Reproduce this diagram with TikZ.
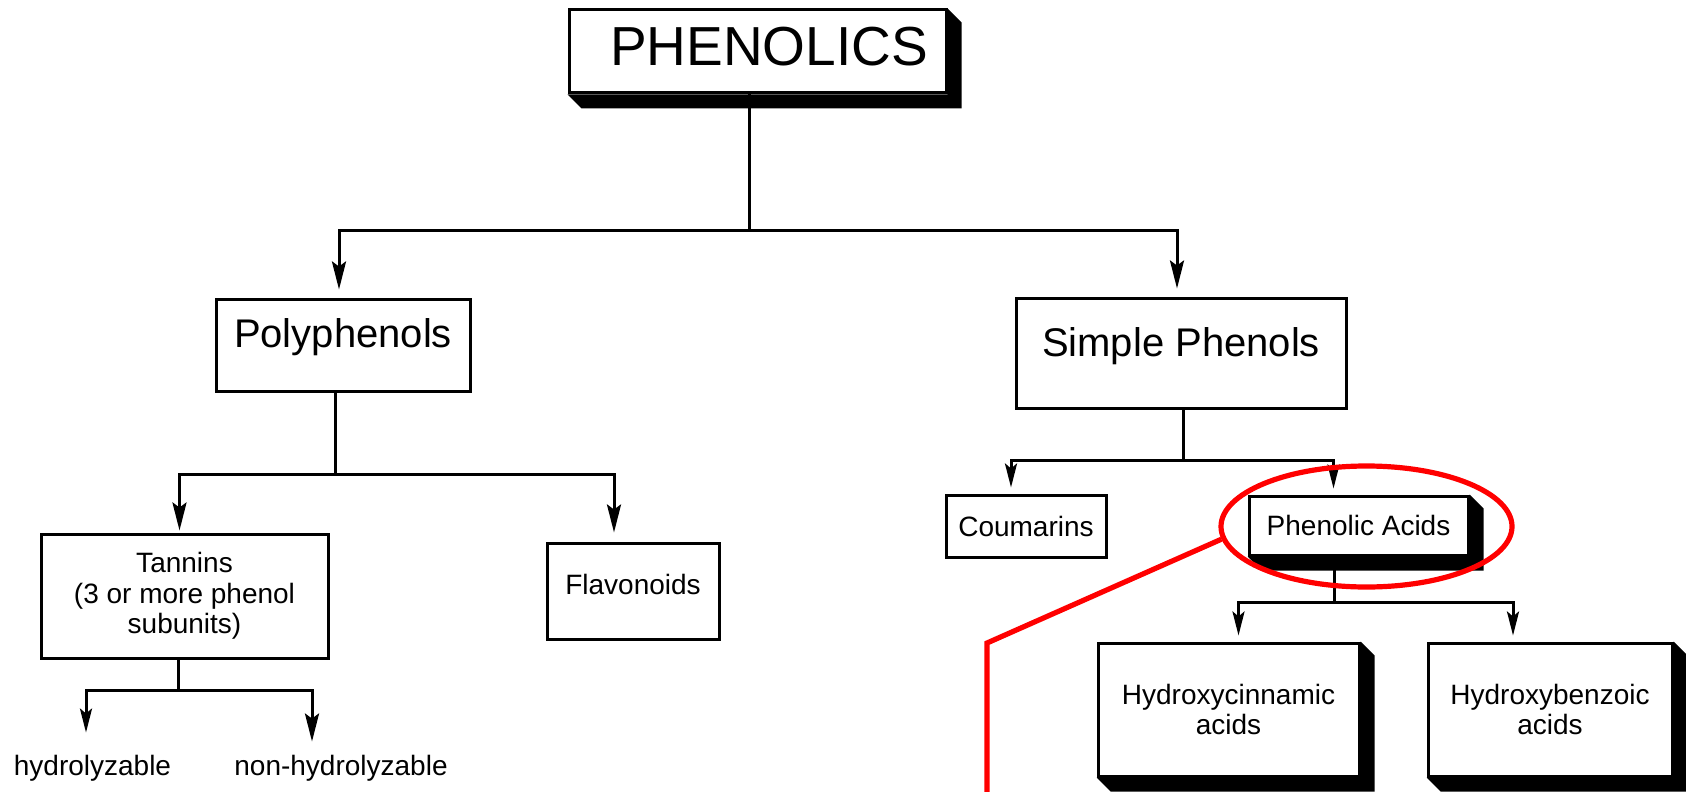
\documentclass[tikz,border=0pt]{standalone}
\usepackage{fontspec}
\setmainfont{Liberation Sans}
\usetikzlibrary{arrows.meta,shapes.geometric}
\tikzstyle{box}     = [rectangle, draw=black, line width=1.5pt, fill=white, inner sep=0pt]
\tikzstyle{leaf}    = [inner sep=0pt]
\tikzstyle{fbig}    = [font=\fontsize{27.5}{30}\selectfont]
\tikzstyle{fmid}    = [font=\fontsize{20}{24}\selectfont]
\tikzstyle{fsmall}  = [font=\fontsize{14}{15.25}\selectfont]
\tikzstyle{link}    = [draw, line width=1.5pt]
\tikzstyle{arrA}    = [link, -{Stealth[length=14pt,width=7pt,inset=2.5pt]}]
\tikzstyle{arrB}    = [link, -{Stealth[length=12pt,width=6pt,inset=2.5pt]}]
\tikzstyle{ring}    = [ellipse, draw=red, line width=2.6pt, minimum width=145.5pt, minimum height=60.5pt, inner sep=0pt]
\tikzstyle{redline} = [draw=red, line width=2.6pt]

\begin{document}
\begin{tikzpicture}[x=0.5pt, y=-0.5pt]
	\useasboundingbox (0,0) rectangle (1686,792);

	%%%% Boxes
	\node[box, fbig, minimum width=188.5pt, minimum height=41.5pt, text depth=5pt] (top) at (757.5,51.5) {\hspace*{11.5pt}PHENOLICS};
	\node[box, fmid, minimum width=127pt, minimum height=46pt, text depth=12pt] (poly) at (343,345) {Polyphenols};
	\node[box, fmid, minimum width=165pt, minimum height=55pt, text depth=11pt] (simple) at (1181,353) {Simple Phenols};

	\node[box, fsmall, align=center, minimum width=143.5pt, minimum height=62pt] (tannins) at (184.5,596) {Tannins\\(3 or more phenol\\subunits)};
	\node[box, fsmall, minimum width=86pt, minimum height=48pt, text depth=7pt] (flav) at (633,591) {Flavonoids};
	\node[box, fsmall, minimum width=80pt, minimum height=31pt] (coum) at (1026,526) {Coumarins};
	\node[box, fsmall, minimum width=109.5pt, minimum height=29.5pt] (acids) at (1358.5,525.5) {Phenolic Acids};
	\node[box, fsmall, align=center, minimum width=130.5pt, minimum height=66.5pt] (hcin) at (1228.5,709.5) {Hydroxycinnamic\\acids};
	\node[box, fsmall, align=center, minimum width=122pt, minimum height=66.5pt] (hben) at (1550,709.5) {Hydroxybenzoic\\acids};

	%%%% Tannin types
	\node[leaf, fsmall] (hyd) at (92.5,768) {hydrolyzable};
	\node[leaf, fsmall] (nonhyd) at (341,768) {non-hydrolyzable};

	%%%% Shadows
	\foreach \name in {top,acids,hcin,hben}
	\fill (\name.north east) -- ([shift={(7pt,-7pt)}]\name.north east) -- ([shift={(7pt,-7pt)}]\name.south east) -- ([shift={(7pt,-7pt)}]\name.south west) -- (\name.south west) -- (\name.south east) -- cycle;

	%%%% Branch points
	\coordinate (b0) at (749,230);
	\coordinate (b1) at (335,474);
	\coordinate (b2) at (1183,460);
	\coordinate (b3) at (178.5,690);
	\coordinate (b4) at (1334.5,602);

	%%%% Stems
	\foreach \name/\bar in {top/b0, poly/b1, simple/b2, tannins/b3, acids/b4}
	\path[link] (\name.south -| \bar) -- (\bar);

	%%%% Arrows
	\foreach \bar/\dest/\dx/\sh in {b0/poly/-2pt/4pt, b0/simple/-2pt/4pt, b1/tannins/-2.5pt/1pt, b1/flav/-9.5pt/4.5pt}
	\path[arrA, shorten >=\sh] (\bar) -| ([xshift=\dx]\dest.north);
	\foreach \bar/\dest/\dx/\sh in {b2/coum/-7.5pt/3pt, b2/acids/-12.5pt/3pt, b4/hcin/5pt/3pt, b4/hben/-18.5pt/3pt}
	\path[arrB, shorten >=\sh] (\bar) -| ([xshift=\dx]\dest.north);
	\path[arrB, shorten >=11pt] (b3) -| ([xshift=-3.25pt]hyd.north);
	\path[arrA, shorten >=6.5pt] (b3) -| ([xshift=-14.5pt]nonhyd.north);

	%%%% Highlight
	\node[ring] (ring) at (1366.5,526.5) {};
	\coordinate (bend) at (987,643);
	\coordinate (tail) at (987,796);
	\path[redline] (ring.185) -- (bend) -- (tail);
\end{tikzpicture}
\end{document}
